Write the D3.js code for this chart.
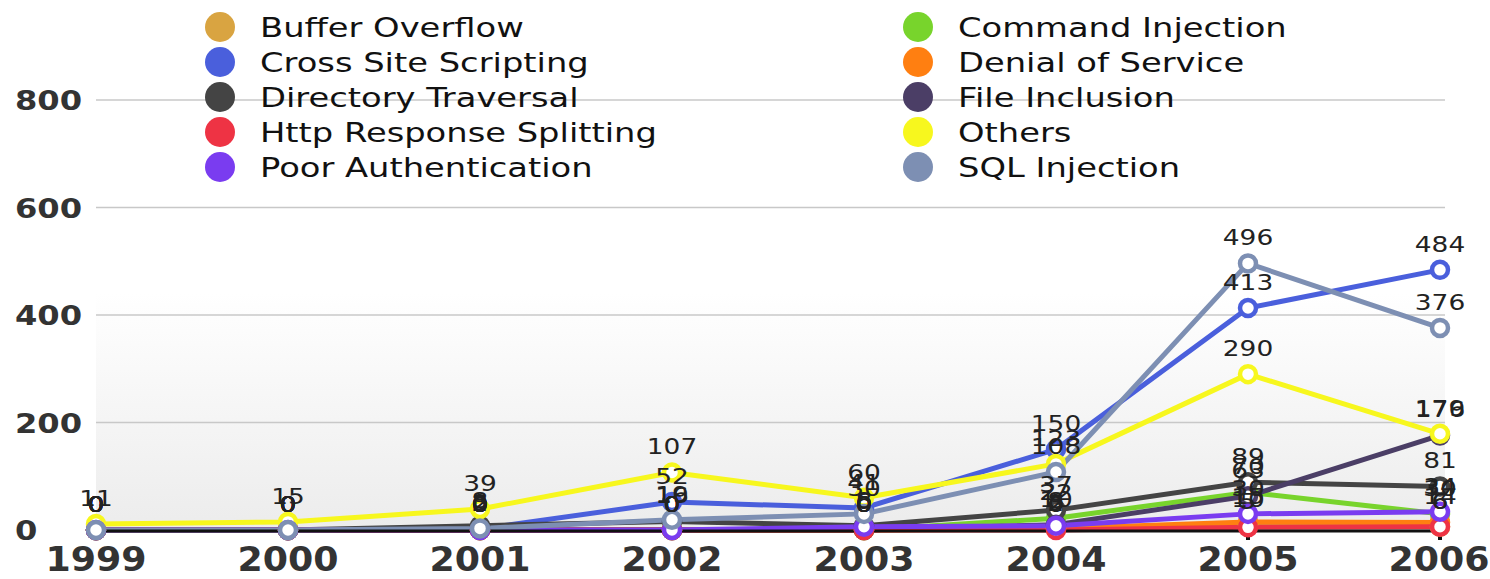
<!DOCTYPE html>
<html><head><meta charset="utf-8">
<script src="https://cdn.jsdelivr.net/npm/d3@7"></script>
<style>body{margin:0;background:#fff;}svg{display:block;}</style>
</head><body>
<svg id="c" width="1490" height="579"></svg>
<script>
const years = ["1999","2000","2001","2002","2003","2004","2005","2006"];
const seriesNames = ["Buffer Overflow","Command Injection","Cross Site Scripting","Denial of Service","Directory Traversal","File Inclusion","Http Response Splitting","Others","Poor Authentication","SQL Injection"];
const seriesColors = ["#d9a441","#78d42c","#4a5fdc","#ff7f11","#444444","#4b3e66","#ee3344","#f7f71e","#7a3cf0","#7d8fb3"];
const bufferOverflow     = [0,0,0,0,0,2,10,6];
const commandInjection   = [0,0,0,0,0,22,70,30];
const crossSiteScripting = [0,0,2,52,41,150,413,484];
const denialOfService    = [0,0,0,0,0,3,15,14];
const directoryTraversal = [0,0,8,16,8,37,89,81];
const fileInclusion      = [0,0,0,0,0,10,63,176];
const httpResponseSplit  = [0,0,0,0,0,0,5,6];
const others             = [11,15,39,107,60,123,290,179];
const poorAuthentication = [0,0,0,0,6,8,30,34];
const sqlInjection       = [0,0,3,19,30,108,496,376];
const yTicks = [0,200,400,600,800];

const seriesValues = [bufferOverflow,commandInjection,crossSiteScripting,denialOfService,directoryTraversal,fileInclusion,httpResponseSplit,others,poorAuthentication,sqlInjection];
const series = seriesNames.map((n,i)=>({name:n,color:seriesColors[i],values:seriesValues[i]}));

const svg = d3.select("#c");
const FONT = "DejaVu Sans, Verdana, sans-serif";
const x = d3.scalePoint().domain(years).range([96,1440]);
const y = d3.scaleLinear().domain([0,800]).range([530,100]);

// background gradient
const defs = svg.append("defs");
const g = defs.append("linearGradient").attr("id","bg").attr("x1",0).attr("y1",0).attr("x2",0).attr("y2",1);
g.append("stop").attr("offset","0%").attr("stop-color","#ffffff");
g.append("stop").attr("offset","45%").attr("stop-color","#ffffff");
g.append("stop").attr("offset","100%").attr("stop-color","#ececec");
svg.append("rect").attr("x",96).attr("y",y(800)).attr("width",1445-96).attr("height",y(0)-y(800)).attr("fill","url(#bg)");

// gridlines
svg.append("g").selectAll("line").data(yTicks.filter(d=>d>0)).join("line")
  .attr("x1",96).attr("x2",1445).attr("y1",d=>y(d)).attr("y2",d=>y(d))
  .attr("stroke","#c8c8c8").attr("stroke-width",1.5);

function stext(sel, sx){
  return sel.attr("transform", d=>`translate(${d.tx},${d.ty}) scale(${sx},1)`);
}

// y labels
stext(svg.append("g").selectAll("text").data(yTicks.map(t=>({t,tx:15,ty:y(t)+10}))).join("text")
  .attr("font-family",FONT).attr("font-weight","bold").attr("font-size",27).attr("fill","#333")
  .text(d=>d.t), 1.19);

// x labels (kept inside the right edge)
const xl = svg.append("g").selectAll("text").data(years.map(t=>({t,tx:Math.min(x(t),1487-48),ty:571}))).join("text")
  .attr("font-family",FONT).attr("font-weight","bold").attr("font-size",33).attr("fill","#333")
  .attr("text-anchor","middle").text(d=>d.t);
stext(xl, 1.1);

// lines
const line = d3.line().x((d,i)=>x(years[i])).y(d=>y(d));
const lg = svg.append("g");
series.forEach(s=>{
  lg.append("path").attr("d",line(s.values)).attr("fill","none").attr("stroke",s.color)
    .attr("stroke-width",5).attr("stroke-linejoin","round").attr("stroke-linecap","round");
});

// baseline + ticks
svg.append("line").attr("x1",96).attr("x2",1440).attr("y1",y(0)+1).attr("y2",y(0)+1).attr("stroke","#111").attr("stroke-width",3);
svg.append("g").selectAll("line").data(years).join("line")
  .attr("x1",d=>x(d)).attr("x2",d=>x(d)).attr("y1",y(0)).attr("y2",y(0)+10).attr("stroke","#111").attr("stroke-width",4);

// markers
series.forEach(s=>{
  svg.append("g").selectAll("circle").data(s.values).join("circle")
    .attr("cx",(d,i)=>x(years[i])).attr("cy",d=>y(d)).attr("r",8)
    .attr("fill","#fff").attr("stroke",s.color).attr("stroke-width",4.5);
});

// value labels
series.forEach(s=>{
  stext(svg.append("g").selectAll("text").data(s.values.map((v,i)=>({v,tx:x(years[i]),ty:y(v)-18}))).join("text")
    .attr("font-family",FONT).attr("font-size",22).attr("fill","#222").attr("text-anchor","middle")
    .text(d=>d.v), 1.2);
});

// legend
const leg = svg.append("g");
series.forEach((s,i)=>{
  const col = i%2, row = Math.floor(i/2);
  const cx = col===0 ? 220 : 918, cy = 27 + row*35;
  leg.append("circle").attr("cx",cx).attr("cy",cy).attr("r",15).attr("fill",s.color);
  stext(leg.append("text").datum({tx:cx+40,ty:cy+10}), 1.25)
    .attr("font-family",FONT).attr("font-size",27).attr("fill","#111").text(s.name);
});
</script>
</body></html>
